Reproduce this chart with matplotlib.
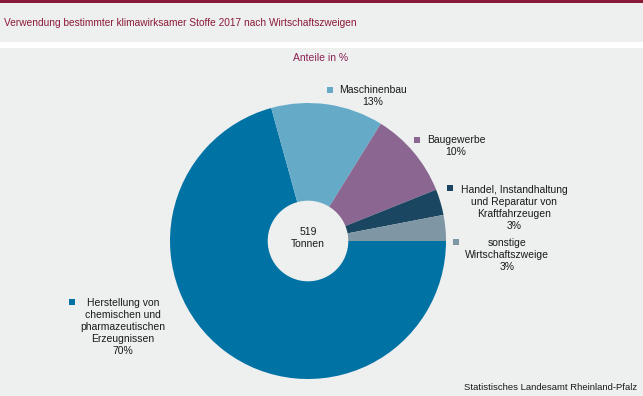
import numpy as np
import matplotlib
matplotlib.use('Agg')
import matplotlib.pyplot as plt
from matplotlib.patches import Rectangle

plt.rcParams['font.family'] = ['Liberation Sans', 'DejaVu Sans']

# data
sectors = ['Herstellung von\nchemischen und\npharmazeutischen\nErzeugnissen',
           'Maschinenbau', 'Baugewerbe',
           'Handel, Instandhaltung\nund Reparatur von\nKraftfahrzeugen',
           'sonstige\nWirtschaftszweige']
shares = [70, 13, 10, 3, 3]
colors = ['#0072a3', '#65abc8', '#8b6690', '#1b4661', '#7f97a5']
total_t = 519

W, H = 643, 396
BG = '#eeefef'
RED = '#8b1a38'


def px(x, y):
    return x / W, 1 - y / H


fig = plt.figure(figsize=(W / 100, H / 100), dpi=100)
fig.patch.set_facecolor(BG)

# header band, white separator, top bar
fig.add_artist(Rectangle(px(0, 48), 1, 6 / H, transform=fig.transFigure,
                         facecolor='white', edgecolor='none'))
fig.add_artist(Rectangle(px(0, 2.5), 1, 2.5 / H, transform=fig.transFigure,
                         facecolor=RED, edgecolor='none'))

fig.text(*px(4, 23), 'Verwendung bestimmter klimawirksamer Stoffe 2017 nach Wirtschaftszweigen',
         color=RED, fontsize=7.3, ha='left', va='center')
fig.text(*px(321, 58), 'Anteile in %', color='#8b2252', fontsize=7.5,
         ha='center', va='center')

# pie
cx, cy, r = 308, 241, 138
ax = fig.add_axes([(cx - r) / W, 1 - (cy + r) / H, 2 * r / W, 2 * r / H])
ax.pie(shares, colors=colors, startangle=0, counterclock=False,
       wedgeprops=dict(width=1 - 0.28, edgecolor='none'))
ax.set_xlim(-1, 1)
ax.set_ylim(-1, 1)
ax.set_aspect('equal')
ax.axis('off')
ax.add_patch(plt.Circle((0, 0), 0.287, color=BG, zorder=5))
ax.text(0, 0.02, f'{total_t}\nTonnen', ha='center', va='center', fontsize=7.5,
        linespacing=1.25, color='#1a1a1a', zorder=6)

# labels with color squares
label_pos = [  # square x, square y, text center x, text top y
    (72, 302, 123, 298),
    (330, 90, 373, 85),
    (417, 140, 456, 135),
    (450, 188, 514, 185),
    (456, 242, 507, 238),
]
for name, pct, col, (sx, sy, tx, ty) in zip(sectors, shares, colors, label_pos):
    fig.add_artist(Rectangle(px(sx - 3, sy + 3), 6 / W, 6 / H,
                             transform=fig.transFigure, facecolor=col, edgecolor='none'))
    fig.text(*px(tx, ty), f'{name}\n{pct}%', ha='center', va='top',
             fontsize=7.5, linespacing=1.25, color='#1a1a1a', multialignment='center')

fig.text(*px(637, 387), 'Statistisches Landesamt Rheinland-Pfalz', ha='right',
         va='center', fontsize=6.8, color='#1a1a1a')

fig.savefig('out.png', dpi=100, facecolor=BG)
